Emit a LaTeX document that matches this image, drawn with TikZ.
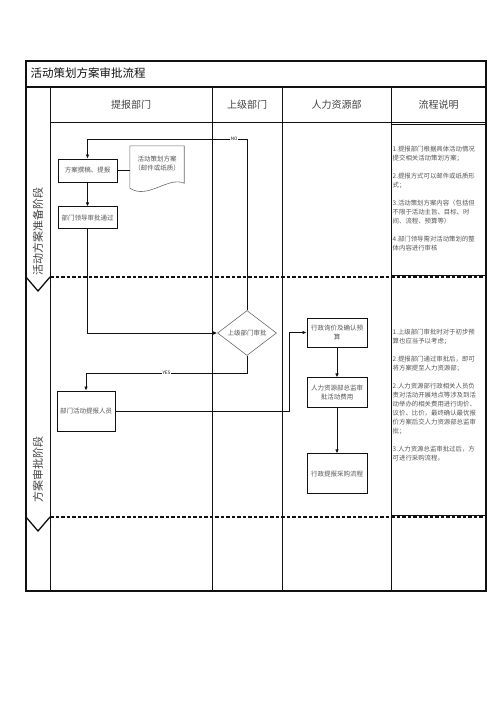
\documentclass[tikz,border=0pt]{standalone}
\usepackage{fontspec}
\setmainfont{Noto Sans CJK SC}
\usetikzlibrary{arrows.meta,positioning,shapes.geometric}
\definecolor{Ink}{HTML}{111111}
\definecolor{Muted}{HTML}{555555}
\definecolor{Outline}{HTML}{6A6A6A}
\tikzset{
  flow/.style={-{Latex[length=4pt,width=3.6pt]}, draw=Ink, line width=0.9pt},
  link/.style={draw=Ink, line width=0.9pt},
  grid/.style={draw=Ink, line width=0.9pt},
  border/.style={draw=Ink, line width=1.3pt},
  phasebreak/.style={draw=Ink, line width=1.6pt, dash pattern=on 3.5pt off 2pt},
  stepbox/.style={draw=Ink, line width=0.9pt, align=center, text=Muted,
    font=\fontsize{6.5}{9}\selectfont, inner sep=1pt},
  decision/.style={diamond, draw=Outline, line width=0.6pt, align=center, text=Muted,
    font=\fontsize{6.5}{9}\selectfont, inner sep=0pt, minimum width=59pt, minimum height=40pt},
  docnote/.style={align=center, text=Muted, font=\fontsize{6.5}{9}\selectfont, inner sep=0pt,
    minimum width=54pt, minimum height=36pt},
  flowtitle/.style={font=\fontsize{11.5}{13}\selectfont, text=Ink, anchor=west},
  lanetitle/.style={font=\fontsize{10}{12}\selectfont, text=Ink!80},
  phasetitle/.style={rotate=90, font=\fontsize{11}{13}\selectfont, text=Ink!80},
  stepnote/.style={anchor=north west, align=left, text=Muted, font=\fontsize{6.4}{9}\selectfont,
    inner sep=0pt},
  flowlabel/.style={fill=white, inner sep=0.6pt, font=\fontsize{4.6}{5}\selectfont, text=Ink},
}

\begin{document}
\begin{tikzpicture}[x=1pt, y=-1pt, node distance=24pt]
  \useasboundingbox (0,0) rectangle (496,702);

  % Frame, lanes and phase breaks.
  \draw[border] (26,61) rectangle (486,591);
  \draw[border] (26,87) -- (486,87);
  \draw[grid] (50,87) -- (50,591);
  \draw[grid] (212,87) -- (212,591);
  \draw[grid] (282,87) -- (282,591);
  \draw[grid] (391,87) -- (391,591);
  \draw[grid] (50,122) -- (486,122);
  \draw[grid] (391,124.5) -- (486,124.5);
  \draw[phasebreak] (50,277) -- (486,277);
  \draw[phasebreak] (50,517) -- (486,517);
  \draw[border] (391,275.5) -- (486,275.5);
  \draw[border] (391,515.5) -- (486,515.5);
  \draw[border] (26,277) -- (38,291) -- (50,277);
  \draw[border] (26,517) -- (38,531) -- (50,517);

  % Titles.
  \node[flowtitle] (title) at (27,73) {活动策划方案审批流程};
  \node[lanetitle] (lanesubmit) at (131,104.5) {提报部门};
  \node[lanetitle] (lanesuperior) at (247,104.5) {上级部门};
  \node[lanetitle] (lanehr) at (336.5,104.5) {人力资源部};
  \node[lanetitle] (lanenote) at (438.5,104.5) {流程说明};
  \node[phasetitle] (phaseprep) at (38,231) {活动方案准备阶段};
  \node[phasetitle] (phasereview) at (38,469) {方案审批阶段};

  % Steps.
  \node[stepbox, minimum width=59pt, minimum height=23pt] (draft) at (87.5,170.5) {方案撰稿、提报};
  \node[stepbox, minimum width=59pt, minimum height=22pt, below=24pt of draft] (leadok) {部门领导审批通过};
  \node[docnote] (plandoc) at (157,164) {活动策划方案\\（邮件或纸质）};
  \draw[draw=Outline, line width=0.6pt] (plandoc.north west) -- (plandoc.north east)
    -- ([yshift=-1pt]plandoc.south east) .. controls (168,176) and (148,200) .. ([yshift=-6pt]plandoc.south west)
    -- cycle;
  \node[decision] (superior) at (247,333) {上级部门审批};
  \node[stepbox, minimum width=58pt, minimum height=40pt] (reporter) at (86,411) {部门活动提报人员};
  \node[stepbox, minimum width=60pt, minimum height=29pt] (inquiry) at (337,332.5) {行政询价及确认预\\算};
  \node[stepbox, minimum width=60pt, minimum height=30pt, below=30pt of inquiry] (director)
    {人力资源部总监审\\批活动费用};
  \node[stepbox, minimum width=60pt, minimum height=40pt, below=45pt of director] (purchase)
    {行政提报采购流程};

  % Connectors.
  \coordinate (nocorner) at (87.5,139);
  \coordinate (yescorner) at (86,373);
  \coordinate (hrjog) at (289,332.5);
  \draw[link] (draft.east) -- (draft.east -| plandoc.west);
  \draw[flow] (draft) -- (leadok);
  \draw[flow] (leadok.south) |- (superior.west);
  \draw[flow] (superior.north) |- node[flowlabel, pos=0.54] {NO} (nocorner) -- (draft.north);
  \draw[flow] (superior.south) |- node[flowlabel, pos=0.75] {YES} (yescorner) -- (reporter.north);
  \draw[flow] (reporter.east) -| (hrjog) -- (inquiry.west);
  \draw[flow] (inquiry) -- (director);
  \draw[flow] (director) -- (purchase);

  % Notes per phase.
  \node[stepnote] (noteprep) at (392.5,146) {1.提报部门根据具体活动情况\\提交相关活动策划方案；\\[9pt]
    2.提报方式可以邮件或纸质形\\式；\\[9pt]
    3.活动策划方案内容（包括但\\不限于活动主旨、目标、时\\间、流程、预算等）\\[9pt]
    4.部门领导需对活动策划的整\\体内容进行审核};
  \node[stepnote] (notereview) at (392.5,329) {1.上级部门审批时对于初步预\\算也应当予以考虑；\\[9pt]
    2.提报部门通过审批后，即可\\将方案提至人力资源部；\\[9pt]
    2.人力资源部行政相关人员负\\责对活动开展地点等涉及到活\\动举办的相关费用进行询价、\\议价、比价，最终确认最优报\\价方案后交人力资源部总监审\\批；\\[9pt]
    3.人力资源总监审批过后，方\\可进行采购流程。};
\end{tikzpicture}
\end{document}
